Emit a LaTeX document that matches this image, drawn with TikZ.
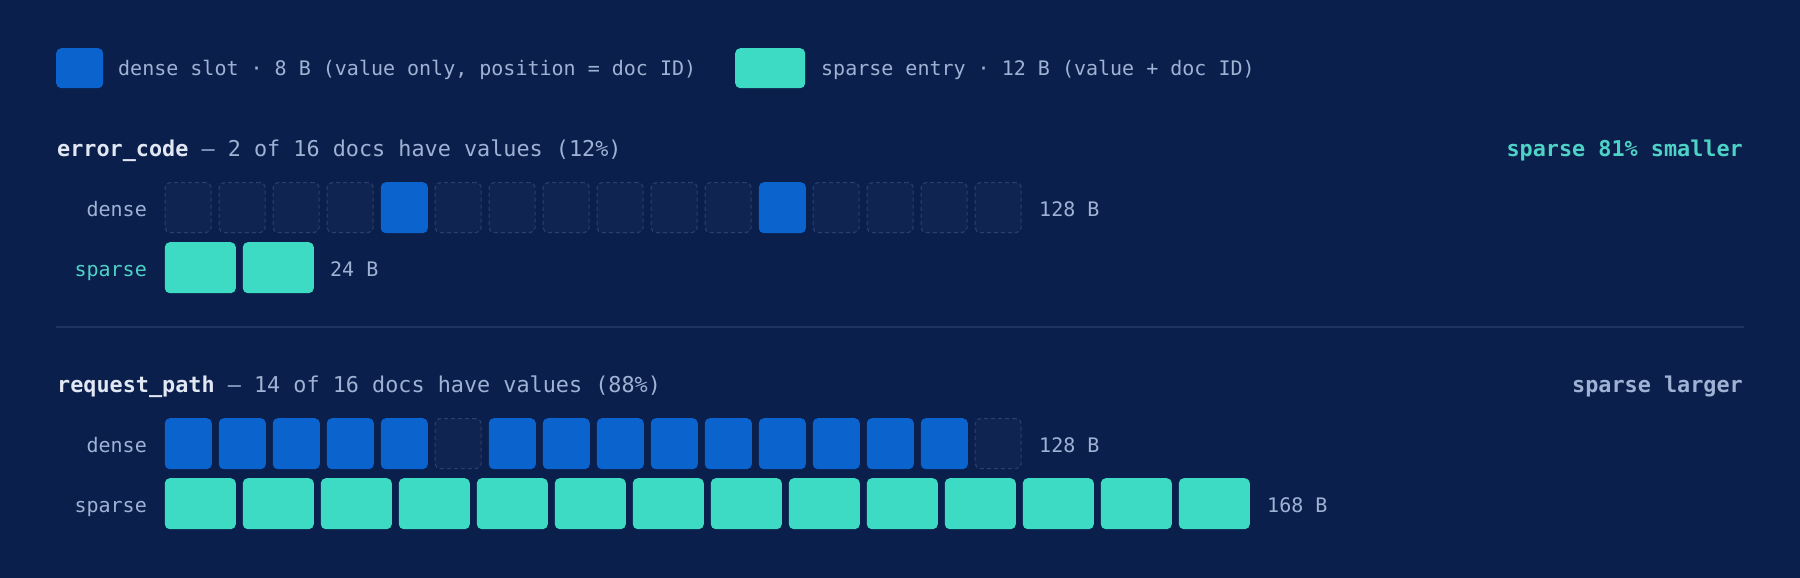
\documentclass[tikz,border=0pt]{standalone}
\usepackage{fontspec}
\setmonofont{DejaVu Sans Mono}
\definecolor{bg}{RGB}{10,31,75}
\definecolor{dblue}{RGB}{11,99,206}
\definecolor{steal}{RGB}{61,219,196}
\definecolor{hi}{RGB}{226,232,243}
\definecolor{muted}{RGB}{160,178,212}
\definecolor{tealtxt}{RGB}{78,210,198}
\definecolor{empfill}{RGB}{16,36,82}
\definecolor{empline}{RGB}{42,64,112}
\definecolor{sepc}{RGB}{30,52,98}
\begin{document}
\begin{tikzpicture}[x=1pt,y=-1pt,
  txt/.style={inner sep=0pt, font=\ttfamily\fontsize{20}{24}\selectfont, text=muted},
  ttl/.style={inner sep=0pt, font=\ttfamily\fontsize{21.8}{26}\selectfont, text=muted},
  box/.style={inner sep=0pt, rounded corners=5pt, anchor=north west},
  dfull/.style={box, fill=dblue, minimum width=47pt, minimum height=51pt},
  dempty/.style={box, fill=empfill, draw=empline, line width=1.1pt, dash pattern=on 4pt off 3pt, minimum width=46pt, minimum height=50pt},
  sfull/.style={box, fill=steal, minimum width=71pt, minimum height=51pt},
  sepline/.style={draw=sepc, line width=1.2pt}]
\fill[bg] (0,0) rectangle (1800,578);
\useasboundingbox (0,0) rectangle (1800,578);
% legend
\node[box, fill=dblue, minimum width=47pt, minimum height=40pt] (legd) at (56,48) {};
\node[txt, anchor=base west] (legdt) at (118,76) {dense slot · 8 B (value only, position = doc ID)};
\node[box, fill=steal, minimum width=70pt, minimum height=40pt] (legs) at (735,48) {};
\node[txt, anchor=base west] (legst) at (821,76) {sparse entry · 12 B (value + doc ID)};
% section 1
\node[ttl, anchor=base west] (t1) at (57,156) {\textcolor{hi}{\bfseries error\_code} — 2 of 16 docs have values (12\%)};
\node[ttl, anchor=base east, text=tealtxt, font=\ttfamily\bfseries\fontsize{21.8}{26}\selectfont] (r1) at (1743,156) {sparse 81\% smaller};
\node[txt, anchor=base east] (ld1) at (147,216) {dense};
\node[txt, anchor=base east, text=tealtxt] (ls1) at (147,276) {sparse};
\foreach \s [count=\i from 0] in {dempty,dempty,dempty,dempty,dfull,dempty,dempty,dempty,dempty,dempty,dempty,dfull,dempty,dempty,dempty,dempty}
  \node[\s] (da\i) at ({164.6+54*\i},182) {};
\node[txt, anchor=base west] (da-size) at (1039,216) {128 B};
\foreach \i in {0,1}
  \node[sfull] (sa\i) at ({164.6+78*\i},242) {};
\node[txt, anchor=base west] (sa-size) at (330,276) {24 B};
% separator
\coordinate (sepL) at (56,327);
\coordinate (sepR) at (1744,327);
\draw[sepline] (sepL) -- (sepR);
% section 2
\node[ttl, anchor=base west] (t2) at (57,392) {\textcolor{hi}{\bfseries request\_path} — 14 of 16 docs have values (88\%)};
\node[ttl, anchor=base east, font=\ttfamily\bfseries\fontsize{21.8}{26}\selectfont] (r2) at (1743,392) {sparse larger};
\node[txt, anchor=base east] (ld2) at (147,452) {dense};
\node[txt, anchor=base east] (ls2) at (147,512) {sparse};
\foreach \s [count=\i from 0] in {dfull,dfull,dfull,dfull,dfull,dempty,dfull,dfull,dfull,dfull,dfull,dfull,dfull,dfull,dfull,dempty}
  \node[\s] (db\i) at ({164.6+54*\i},418) {};
\node[txt, anchor=base west] (db-size) at (1039,452) {128 B};
\foreach \i in {0,...,13}
  \node[sfull] (sb\i) at ({164.6+78*\i},478) {};
\node[txt, anchor=base west] (sb-size) at (1267,512) {168 B};
\end{tikzpicture}
\end{document}
